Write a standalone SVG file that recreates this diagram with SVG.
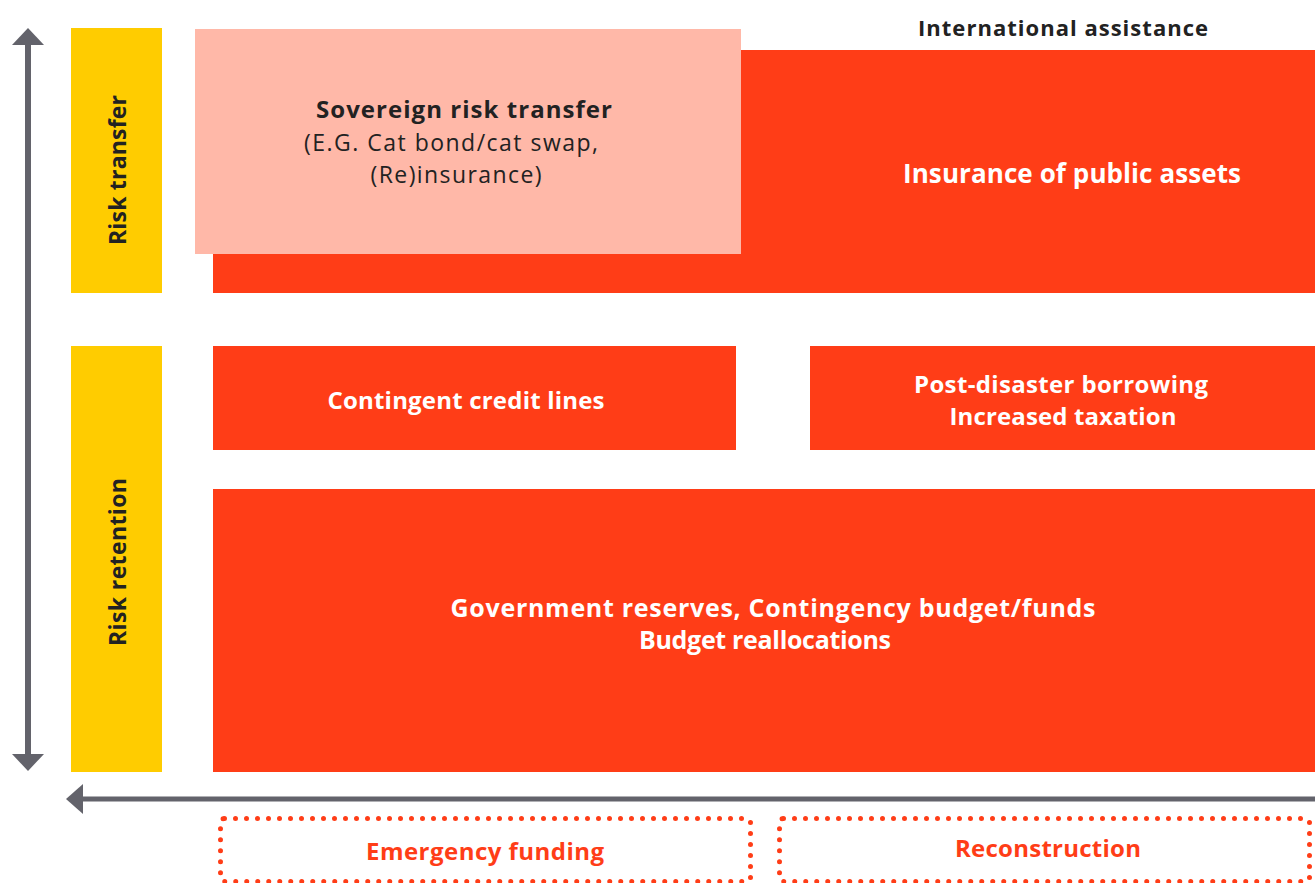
<svg xmlns="http://www.w3.org/2000/svg" width="1315" height="883" viewBox="0 0 1315 883">
<defs>
<style>
.red{fill:#ff3d17}
.yel{fill:#ffcc00}
.wt{fill:#fff;font-family:"Open Sans","Liberation Sans",sans-serif;font-weight:700;font-size:24px;text-anchor:middle}
.dk{fill:#222;font-family:"Open Sans","Liberation Sans",sans-serif;text-anchor:middle}
.dot{fill:none;stroke:#ff3d17;stroke-width:5;stroke-linecap:round;stroke-dasharray:0 11}
.rt{fill:#ff3d17;font-family:"Open Sans","Liberation Sans",sans-serif;font-weight:700;font-size:24px;text-anchor:middle}
.ax{stroke:#63636b;stroke-width:6;fill:none}
.ah{fill:#63636b}
</style>
</defs>
<g id="connectors">
<line class="ax" x1="28" y1="40" x2="28" y2="758"/>
<polygon class="ah" points="28,28 12,45 44,45"/>
<polygon class="ah" points="28,771 12,754 44,754"/>
<line class="ax" x1="78" y1="799" x2="1315" y2="799" style="stroke-width:5"/>
<polygon class="ah" points="66,799 83,784 83,814"/>
</g>
<g id="risk-transfer">
<rect class="yel" x="71" y="28" width="91" height="265"/>
<text class="dk" transform="translate(126,170) rotate(-90)" style="font-weight:700;font-size:23px" textLength="150">Risk transfer</text>
</g>
<g id="risk-retention">
<rect class="yel" x="71" y="346" width="91" height="426"/>
<text class="dk" transform="translate(126,562) rotate(-90)" style="font-weight:700;font-size:23px" textLength="168">Risk retention</text>
</g>
<g id="international-assistance">
<text class="dk" x="1063" y="36" style="font-weight:700;font-size:22px" textLength="290">International assistance</text>
</g>
<g id="insurance-public-assets">
<rect class="red" x="213" y="50" width="1102" height="243"/>
<text class="wt" x="1072" y="183" style="font-size:26px" textLength="338">Insurance of public assets</text>
</g>
<g id="sovereign-risk-transfer">
<rect x="195" y="29" width="546" height="225" fill="#ffb8a8"/>
<text class="dk" x="464" y="118" style="font-weight:700;font-size:24px" textLength="296">Sovereign risk transfer</text>
<text class="dk" x="451" y="151" style="font-size:23px" textLength="294">(E.G. Cat bond/cat swap,</text>
<text class="dk" x="456" y="183" style="font-size:23px" textLength="171">(Re)insurance)</text>
</g>
<g id="contingent-credit-lines">
<rect class="red" x="213" y="346" width="523" height="104"/>
<text class="wt" x="466" y="409" textLength="277">Contingent credit lines</text>
</g>
<g id="post-disaster-borrowing">
<rect class="red" x="810" y="346" width="505" height="104"/>
<text class="wt" x="1061" y="393" textLength="294">Post-disaster borrowing</text>
<text class="wt" x="1063" y="425" textLength="227">Increased taxation</text>
</g>
<g id="government-reserves">
<rect class="red" x="213" y="489" width="1102" height="283"/>
<text class="wt" x="773" y="617" style="font-size:25px" textLength="645">Government reserves, Contingency budget/funds</text>
<text class="wt" x="765" y="649" style="font-size:25px" textLength="252">Budget reallocations</text>
</g>
<g id="emergency-funding">
<rect class="dot" x="220.5" y="818.5" width="530" height="63" rx="4"/>
<text class="rt" x="485" y="860" textLength="238">Emergency funding</text>
</g>
<g id="reconstruction">
<rect class="dot" x="779.5" y="818.5" width="530" height="63" rx="4"/>
<text class="rt" x="1048" y="857" textLength="186">Reconstruction</text>
</g>
</svg>
